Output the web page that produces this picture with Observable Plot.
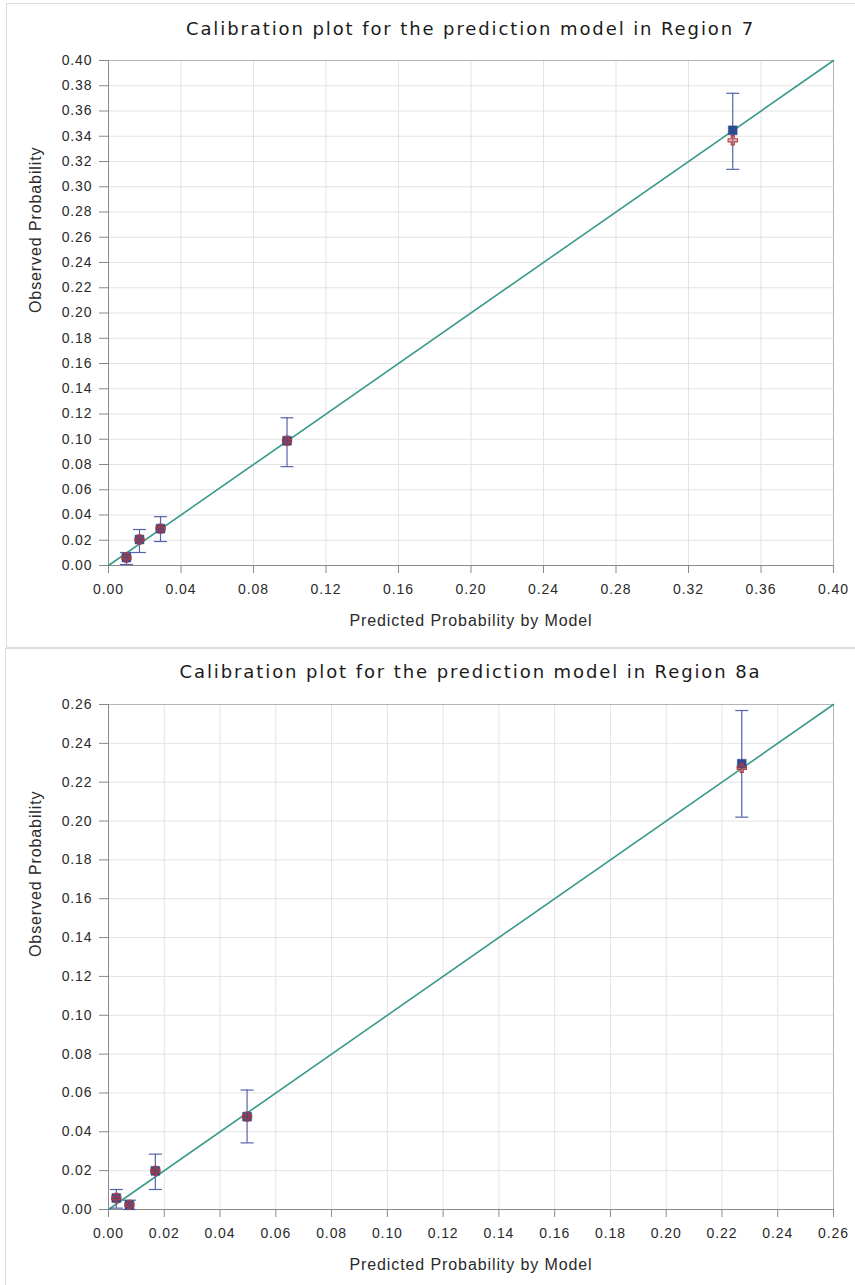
<!DOCTYPE html>
<html>
<head>
<meta charset="utf-8">
<script src="https://cdn.jsdelivr.net/npm/d3@7"></script>
<script src="https://cdn.jsdelivr.net/npm/@observablehq/plot@0.6"></script>
<style>
  body { margin: 0; background: #fff; font-family: "Liberation Sans", Arial, sans-serif; }
  #page { position: relative; width: 855px; height: 1285px; overflow: hidden; }
  .box { position: absolute; border: 1px solid #dcdcdc; border-right: none; }
  .title { position: absolute; left: 90px; width: 761px; text-align: center;
           font-family: "DejaVu Sans", sans-serif;
           font-size: 18px; line-height: 22px; color: #1a1a1a; letter-spacing: 1.9px; }
  .chart { position: absolute; left: 0; }
</style>
</head>
<body>
<div id="page">
  <div class="box" style="left:6px; top:3px; width:849px; height:643px;"></div>
  <div class="box" style="left:5px; top:648px; width:850px; height:640px;"></div>
  <div class="title" style="top:18px;">Calibration plot for the prediction model in Region 7</div>
  <div class="title" style="top:661px;">Calibration plot for the prediction model in Region 8a</div>
  <div id="chart7" class="chart" style="top:45px;"></div>
  <div id="chart8" class="chart" style="top:689px;"></div>
</div>
<script>
// Region 7: risk groups
const predicted7 = [0.0099, 0.0171, 0.0287, 0.0985, 0.3444];
const observed7  = [0.0063, 0.0206, 0.0292, 0.0988, 0.3447];
const expected7  = [0.0063, 0.0206, 0.0292, 0.0988, 0.3368];
const lower7     = [0.0008, 0.0103, 0.0190, 0.0783, 0.3138];
const upper7     = [0.0103, 0.0285, 0.0387, 0.1170, 0.3740];
const domain7    = [0, 0.40];
const xTicks7    = [0, 0.04, 0.08, 0.12, 0.16, 0.20, 0.24, 0.28, 0.32, 0.36, 0.40];
const yTicks7    = d3.range(0, 21).map(i => i / 50);

// Region 8a: risk groups
const predicted8 = [0.0028, 0.0075, 0.0168, 0.0497, 0.2271];
const observed8  = [0.0059, 0.0024, 0.0199, 0.0478, 0.2295];
const expected8  = [0.0059, 0.0024, 0.0199, 0.0478, 0.2274];
const lower8     = [0.0007, 0.0000, 0.0103, 0.0343, 0.2020];
const upper8     = [0.0103, 0.0048, 0.0285, 0.0615, 0.2569];
const domain8    = [0, 0.26];
const xTicks8    = d3.range(0, 14).map(i => i / 50);
const yTicks8    = d3.range(0, 14).map(i => i / 50);

const xLabel = "Predicted Probability by Model";
const yLabel = "Observed Probability";

const fmt = d3.format(".2f");

// horizontal cap drawn at each end of an error bar
const capSymbol = {
  draw(ctx, size) {
    const r = Math.sqrt(size / Math.PI);
    ctx.moveTo(-r, 0);
    ctx.lineTo(r, 0);
  }
};

function calibrationPlot(pred, obs, exp, lo, hi, domain, xTicks, yTicks) {
  const rows = pred.map((p, i) => ({pred: p, obs: obs[i], exp: exp[i], lo: lo[i], hi: hi[i]}));
  const diag = domain.map(v => ({x: v, y: v}));
  return Plot.plot({
    width: 855,
    height: 590,
    marginLeft: 108,
    marginRight: 22,
    marginTop: 15,
    marginBottom: 70,
    style: {fontFamily: "'Liberation Sans', Arial, sans-serif", fontSize: "14px", letterSpacing: "0.9px", background: "transparent"},
    x: {domain, label: null},
    y: {domain, label: null},
    marks: [
      Plot.gridX(xTicks, {stroke: "#e3e3e3", strokeOpacity: 1}),
      Plot.gridY(yTicks, {stroke: "#e3e3e3", strokeOpacity: 1}),
      Plot.frame({stroke: "#b5b5b5"}),
      Plot.axisX({ticks: xTicks, tickFormat: fmt, tickSize: 8, tickPadding: 11, stroke: "#8a8a8a", fill: "#2a2a2a", label: null}),
      Plot.axisY({ticks: yTicks, tickFormat: fmt, tickSize: 9, tickPadding: 7, stroke: "#8a8a8a", fill: "#2a2a2a", label: null}),
      Plot.ruleX([domain[0]], {stroke: "#8a8a8a"}),
      Plot.ruleY([domain[0]], {stroke: "#8a8a8a"}),
      Plot.line(diag, {x: "x", y: "y", stroke: "#3c9a8c", strokeWidth: 1.6}),
      Plot.ruleX(rows, {x: "pred", y1: "lo", y2: "hi", stroke: "#5563aa", strokeWidth: 1.2}),
      Plot.dot(rows, {x: "pred", y: "lo", symbol: capSymbol, r: 6.5, stroke: "#5563aa", strokeWidth: 1.2, fill: "none"}),
      Plot.dot(rows, {x: "pred", y: "hi", symbol: capSymbol, r: 6.5, stroke: "#5563aa", strokeWidth: 1.2, fill: "none"}),
      Plot.dot(rows, {x: "pred", y: "obs", symbol: "square", r: 5, fill: "#2d4b8e", stroke: "#2d4b8e", strokeWidth: 0.5}),
      Plot.dot(rows, {x: "pred", y: "exp", symbol: d3.symbolCross, r: 3.9, stroke: "#b83a3a", strokeWidth: 1.1, fill: "#c04040", fillOpacity: 0.35}),
      Plot.text([xLabel], {frameAnchor: "bottom", dy: 60, fill: "#2a2a2a", fontSize: 16}),
      Plot.text([yLabel], {frameAnchor: "left", dx: -73, rotate: -90, fill: "#2a2a2a", fontSize: 16})
    ]
  });
}

document.getElementById("chart7").append(
  calibrationPlot(predicted7, observed7, expected7, lower7, upper7, domain7, xTicks7, yTicks7)
);
document.getElementById("chart8").append(
  calibrationPlot(predicted8, observed8, expected8, lower8, upper8, domain8, xTicks8, yTicks8)
);
</script>
</body>
</html>
